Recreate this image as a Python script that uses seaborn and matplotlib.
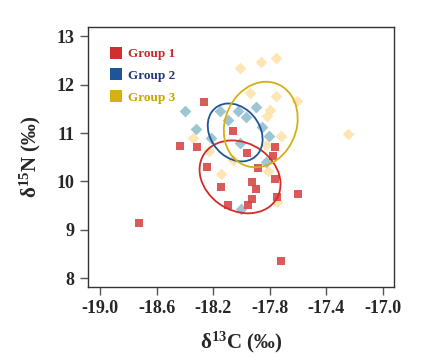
import numpy as np
import pandas as pd
import matplotlib
matplotlib.use("Agg")
import matplotlib.pyplot as plt
from matplotlib.patches import Ellipse
from matplotlib.lines import Line2D
import seaborn as sns

# ---- data ----
groups = ["Group 1", "Group 2", "Group 3"]

g1_c13 = [-18.724, -18.264, -18.434, -18.314, -18.061, -18.245, -17.962, -17.882,
          -17.762, -17.776, -18.144, -17.922, -17.894, -17.924, -18.092, -17.953,
          -17.762, -17.749, -17.601, -17.721]
g1_n15 = [9.15, 11.65, 10.73, 10.72, 11.04, 10.30, 10.58, 10.28,
          10.71, 10.52, 9.88, 9.99, 9.85, 9.63, 9.51, 9.51,
          10.06, 9.67, 9.75, 8.36]

g2_c13 = [-18.396, -18.318, -18.212, -18.154, -18.097, -18.026, -17.970, -18.012,
          -17.899, -17.853, -17.803, -17.824, -18.005]
g2_n15 = [11.45, 11.08, 10.89, 11.45, 11.27, 11.45, 11.33, 10.79,
          11.54, 11.12, 10.94, 10.41, 9.44]

g3_c13 = [-18.009, -17.860, -17.756, -17.936, -17.756, -17.609, -17.800, -17.819,
          -17.718, -17.829, -17.242, -17.811, -17.747, -18.340, -18.231, -18.059, -18.146]
g3_n15 = [12.34, 12.46, 12.54, 11.82, 11.76, 11.66, 11.48, 11.36,
          10.94, 10.75, 10.97, 10.21, 9.58, 10.89, 10.63, 10.44, 10.16]

point_colors = ["#d64848", "#93bfcf", "#ffe3ab"]
line_colors = ["#d42a2a", "#1f5596", "#d4b012"]
legend_marker_colors = ["#d12f2f", "#1f5596", "#d4b010"]
legend_text_colors = ["#c62828", "#1f3a7a", "#c9a400"]

df = pd.DataFrame({
    "c13": g1_c13 + g2_c13 + g3_c13,
    "n15": g1_n15 + g2_n15 + g3_n15,
    "group": [groups[0]] * len(g1_c13) + [groups[1]] * len(g2_c13) + [groups[2]] * len(g3_c13),
})

# ---- style ----
sns.set_style("ticks")
plt.rcParams["font.family"] = ["Liberation Serif", "DejaVu Serif"]
plt.rcParams["font.weight"] = "bold"
plt.rcParams["mathtext.fontset"] = "custom"
plt.rcParams["mathtext.rm"] = "Liberation Serif:bold"
plt.rcParams["mathtext.it"] = "Liberation Serif:italic:bold"
plt.rcParams["mathtext.bf"] = "Liberation Serif:bold"

fig = plt.figure(figsize=(4.34, 3.58), dpi=100)
ax = fig.add_axes([88 / 434, 1 - 287 / 358, 306 / 434, 260 / 358])

palette = dict(zip(groups, point_colors))
markers = {groups[0]: "s", groups[1]: "D", groups[2]: "D"}

# draw group 3 first, then 2, then 1 on top
for g, s in [(groups[2], 36), (groups[1], 36), (groups[0], 28)]:
    sub = df[df["group"] == g]
    sns.scatterplot(data=sub, x="c13", y="n15", color=palette[g], marker=markers[g],
                    s=s, linewidth=0, alpha=0.9, ax=ax, legend=False, zorder=2)

# standard ellipses from covariance (SEAc)
for g, lc in zip(groups, line_colors):
    sub = df[df["group"] == g]
    x = sub["c13"].to_numpy(); y = sub["n15"].to_numpy()
    n = len(x)
    cov = np.cov(x, y) * (n - 1) / (n - 2)
    vals, vecs = np.linalg.eigh(cov)
    order = vals.argsort()[::-1]
    vals, vecs = vals[order], vecs[:, order]
    angle = np.degrees(np.arctan2(vecs[1, 0], vecs[0, 0]))
    e = Ellipse((x.mean(), y.mean()), 2 * np.sqrt(vals[0]), 2 * np.sqrt(vals[1]),
                angle=angle, fill=False, edgecolor=lc, linewidth=1.3, zorder=3)
    ax.add_patch(e)

ax.set_xlim(-19.085, -16.92)
ax.set_ylim(7.82, 13.19)
ax.set_xticks([-19.0, -18.6, -18.2, -17.8, -17.4, -17.0])
ax.set_xticklabels(["-19.0", "-18.6", "-18.2", "-17.8", "-17.4", "-17.0"])
ax.set_yticks([8, 9, 10, 11, 12, 13])
ax.tick_params(axis="both", labelsize=13, length=6, width=1, color="#555555", direction="out")
for lab in ax.get_xticklabels() + ax.get_yticklabels():
    lab.set_fontweight("bold")
for sp in ax.spines.values():
    sp.set_color("#333333")
    sp.set_linewidth(1.0)

ax.set_xlabel(r"δ$^{13}$C (‰)", fontsize=15, fontweight="bold", labelpad=9)
ax.set_ylabel(r"δ$^{15}$N (‰)", fontsize=15, fontweight="bold", labelpad=10)

handles = [Line2D([0], [0], marker="s", linestyle="none", markersize=8,
                  markerfacecolor=c, markeredgewidth=0) for c in legend_marker_colors]
leg = ax.legend(handles, groups, loc="upper left", bbox_to_anchor=(0.03, 0.965), frameon=False,
                handletextpad=0.4, labelspacing=0.72, handlelength=1.0,
                prop={"family": "Liberation Serif", "weight": "bold", "size": 9.5})
for t, c in zip(leg.get_texts(), legend_text_colors):
    t.set_color(c)

fig.savefig("out.png", dpi=100)
